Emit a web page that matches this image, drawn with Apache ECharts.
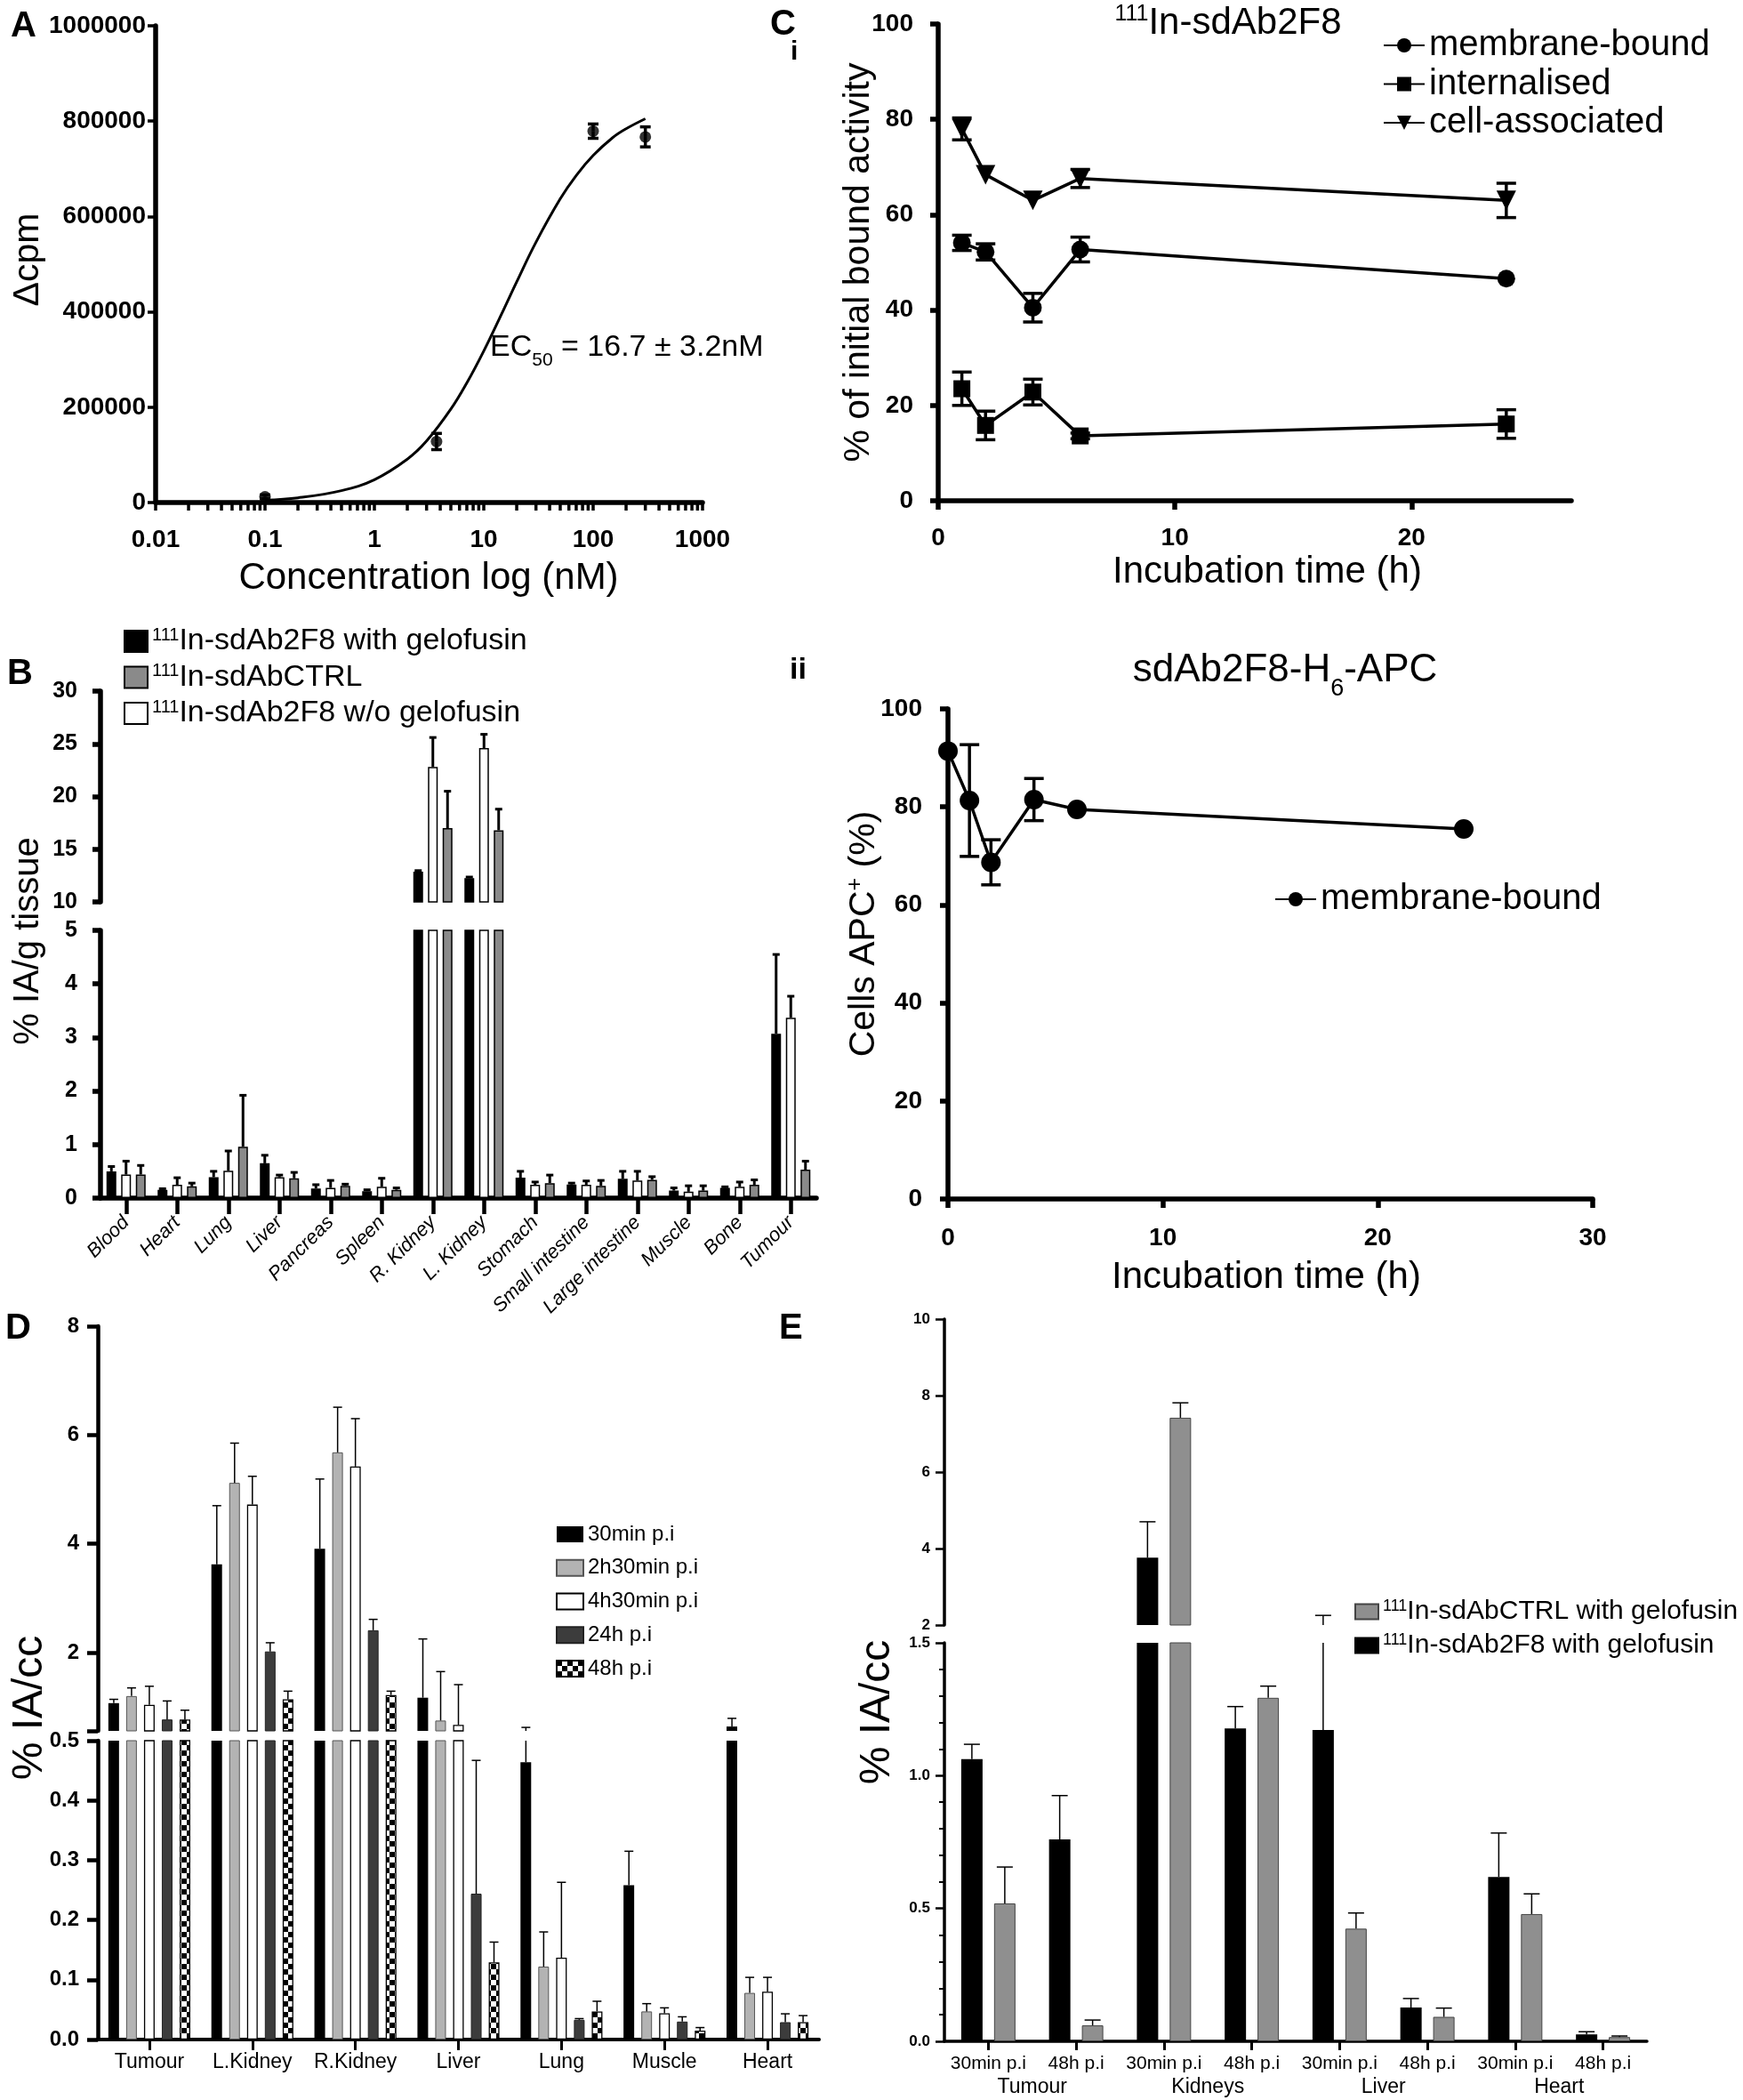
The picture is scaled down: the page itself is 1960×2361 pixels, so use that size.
<!DOCTYPE html>
<html><head><meta charset="utf-8">
<script src="https://cdn.jsdelivr.net/npm/echarts@6/dist/echarts.min.js"></script>
<style>html,body{margin:0;padding:0;background:#fff}#c{width:1960px;height:2361px}</style>
</head><body><div id="c"></div><script>
// ---------- DATA ----------
// Panel A
const aConc = [0.1, 3.7, 100, 300];
const aMean = [12000, 128000, 779000, 767000];
const aErr = [4000, 17000, 15000, 21000];
const aFitConc = [0.1, 0.2, 0.5, 1, 2, 3, 5, 7, 10, 15, 20, 30, 50, 70, 100, 150, 200, 300];
const aFitVal = [5000, 10000, 25000, 48000, 91000, 129000, 196000, 251000, 318000, 402000, 463000, 546000, 637000, 686000, 728000, 765000, 784000, 805000];
const aTicks = [0.01, 0.1, 1, 10, 100, 1000];
// Panel C(i)
const ciTime = [1, 2, 4, 6, 24];
const ciMembrane = [54.1, 52.2, 40.5, 52.7, 46.6];
const ciMembraneErr = [1.6, 1.7, 3.0, 2.6, 0];
const ciInternal = [23.5, 15.8, 22.8, 13.6, 16.1];
const ciInternalErr = [3.5, 3.0, 2.7, 0.6, 3.0];
const ciCell = [78.0, 68.4, 63.0, 67.6, 63.0];
const ciCellErr = [2.3, 0, 0, 1.9, 3.6];
const ciXTicks = [0, 10, 20];
// Panel C(ii)
const ciiTime = [0, 1, 2, 4, 6, 24];
const ciiMembrane = [91.4, 81.3, 68.7, 81.5, 79.5, 75.5];
const ciiErr = [0, 11.4, 4.6, 4.3, 0, 0];
// Panel B
const bTissues = ['Blood','Heart','Lung','Liver','Pancreas','Spleen','R. Kidney','L. Kidney','Stomach','Small intestine','Large intestine','Muscle','Bone','Tumour'];
const bWith = [0.50, 0.155, 0.39, 0.65, 0.18, 0.13, 12.87, 12.26, 0.38, 0.255, 0.36, 0.14, 0.19, 3.07];
const bWithErr = [0.09, 0.02, 0.11, 0.15, 0.07, 0.025, 0.1, 0.1, 0.12, 0.025, 0.14, 0.05, 0.02, 1.48];
const bWo = [0.44, 0.25, 0.51, 0.39, 0.19, 0.21, 22.8, 24.6, 0.25, 0.25, 0.33, 0.12, 0.21, 3.37];
const bWoErr = [0.25, 0.13, 0.37, 0.04, 0.14, 0.16, 2.8, 1.3, 0.05, 0.07, 0.17, 0.11, 0.09, 0.40];
const bCtrl = [0.44, 0.22, 0.96, 0.37, 0.23, 0.155, 17.0, 16.8, 0.28, 0.23, 0.34, 0.14, 0.25, 0.53];
const bCtrlErr = [0.17, 0.06, 0.96, 0.11, 0.03, 0.035, 3.5, 2.0, 0.15, 0.10, 0.06, 0.09, 0.09, 0.16];
// Panel D
const dTissues = ['Tumour','L.Kidney','R.Kidney','Liver','Lung','Muscle','Heart'];
const dTimes = ['30min p.i','2h30min p.i','4h30min p.i','24h p.i','48h p.i'];
const d30 = [1.07, 3.62, 3.91, 1.17, 0.464, 0.258, 0.64];
const d30Err = [0.07, 1.08, 1.28, 1.08, 0.16, 0.057, 0.15];
const d2h30 = [1.20, 5.12, 5.68, 0.75, 0.122, 0.047, 0.078];
const d2h30Err = [0.15, 0.73, 0.83, 0.90, 0.058, 0.013, 0.026];
const d4h30 = [1.04, 4.72, 5.42, 0.67, 0.137, 0.044, 0.080];
const d4h30Err = [0.34, 0.52, 0.88, 0.74, 0.126, 0.009, 0.024];
const d24 = [0.77, 2.02, 2.41, 0.244, 0.033, 0.030, 0.029];
const d24Err = [0.34, 0.16, 0.20, 0.223, 0.002, 0.008, 0.014];
const d48 = [0.77, 1.14, 1.22, 0.129, 0.047, 0.015, 0.029];
const d48Err = [0.17, 0.15, 0.07, 0.034, 0.017, 0.005, 0.011];
const dUpperTicks = [2, 4, 6, 8];
// Panel E
const eGroups = ['Tumour','Kidneys','Liver','Heart'];
const eTimes = ['30min p.i','48h p.i'];
const e2F8 = [1.062, 0.76, 3.76, 1.178, 1.172, 0.127, 0.619, 0.026];
const e2F8Err = [0.056, 0.165, 0.94, 0.082, 1.08, 0.034, 0.165, 0.010];
const eCtrl = [0.519, 0.060, 7.42, 1.293, 0.424, 0.092, 0.479, 0.016];
const eCtrlErr = [0.137, 0.020, 0.39, 0.044, 0.059, 0.033, 0.076, 0.004];

// ---------- CHART ----------
const F = '"Liberation Sans", Arial, Helvetica, sans-serif';
const chart = echarts.init(document.getElementById('c'), null, {renderer:'canvas', width:1960, height:2361});
const grid = [], xAxis = [], yAxis = [], series = [], legend = [], graphic = [];

function merge(a, b) {
  const o = Array.isArray(a) ? a.slice() : Object.assign({}, a);
  for (const k in b) {
    if (b[k] && typeof b[k] === 'object' && !Array.isArray(b[k]) && a[k] && typeof a[k] === 'object' && !Array.isArray(a[k])) o[k] = merge(a[k], b[k]);
    else o[k] = b[k];
  }
  return o;
}
function axis(lw, tickLen, labSize, margin, extra) {
  return merge({
    axisLine: {show: true, onZero: false, lineStyle: {color: '#000', width: lw}},
    axisTick: {show: true, inside: false, length: tickLen, lineStyle: {color: '#000', width: lw}},
    splitLine: {show: false},
    axisLabel: {color: '#000', fontFamily: F, fontWeight: 'bold', fontSize: labSize, margin: margin}
  }, extra || {});
}
function errSeries(xi, yi, xs, means, errs, off, lw, cap, both, z) {
  return {
    type: 'custom', xAxisIndex: xi, yAxisIndex: yi, clip: true, silent: true, z: z || 4,
    data: xs.map((x, i) => [x, means[i], errs[i]]),
    encode: {x: 0, y: 1},
    renderItem: (params, api) => {
      const e = api.value(2); if (!e) return null;
      const x = api.value(0), m = api.value(1);
      const pm = api.coord([x, m]), pt = api.coord([x, m + e]);
      const cx = pm[0] + off;
      const st = {stroke: '#000', lineWidth: lw};
      const ch = [
        {type: 'line', shape: {x1: cx, y1: pm[1], x2: cx, y2: pt[1]}, style: st},
        {type: 'line', shape: {x1: cx - cap, y1: pt[1], x2: cx + cap, y2: pt[1]}, style: st}
      ];
      if (both) {
        const pb = api.coord([x, m - e]);
        ch.push({type: 'line', shape: {x1: cx, y1: pm[1], x2: cx, y2: pb[1]}, style: st},
                {type: 'line', shape: {x1: cx - cap, y1: pb[1], x2: cx + cap, y2: pb[1]}, style: st});
      }
      return {type: 'group', children: ch};
    }
  };
}
function txt(x, y, text, size, o) {
  o = o || {};
  graphic.push({type: 'text', x: x, y: y, rotation: o.rot || 0, silent: true,
    style: Object.assign({text: text, fill: '#000', font: (o.weight || 'normal') + ' ' + size + 'px ' + F,
      align: o.align || 'center', verticalAlign: o.va || 'middle'}, o.style || {})});
}
const supFmt = name => name.indexOf('111') === 0 ? '{s|111}{t|' + name.slice(3) + '}' : '{t|' + name + '}';
function supRich(size) {
  return {s: {fontSize: Math.round(size * 0.6), fontFamily: F, color: '#000', verticalAlign: 'top', lineHeight: size},
          t: {fontSize: size, fontFamily: F, color: '#000', lineHeight: size}};
}

// ===== Panel A =====
grid.push({left: 175, top: 29, width: 615, height: 536});
xAxis.push(axis(5.5, 9, 28, 28, {type: 'log', gridIndex: 0, logBase: 10, min: 0.01, max: 1000,
  axisTick: {lineStyle: {width: 3.5}}, axisLabel: {formatter: v => String(+(+v).toPrecision(3))}}));
yAxis.push(axis(5.5, 9, 28, 11, {type: 'value', gridIndex: 0, min: 0, max: 1000000, interval: 200000,
  axisTick: {lineStyle: {width: 3.5}}, axisLabel: {formatter: v => String(v)}}));
const aMinor = [];
for (let d = 0; d < aTicks.length - 1; d++) for (let k = 2; k < 10; k++) aMinor.push(aTicks[d] * k);
series.push({type: 'custom', xAxisIndex: 0, yAxisIndex: 0, silent: true, data: aMinor.map(v => [v, 0]), encode: {x: 0, y: 1},
  renderItem: (p, api) => { const c = api.coord([api.value(0), 0]);
    return {type: 'line', shape: {x1: c[0], y1: c[1], x2: c[0], y2: c[1] + 9}, style: {stroke: '#000', lineWidth: 3.5}}; }});
series.push({type: 'line', xAxisIndex: 0, yAxisIndex: 0, data: aFitConc.map((x, i) => [x, aFitVal[i]]), smooth: 0.4,
  symbol: 'none', lineStyle: {color: '#000', width: 3}, silent: true, z: 2});
series.push({type: 'scatter', xAxisIndex: 0, yAxisIndex: 0, data: aConc.map((x, i) => [x, aMean[i]]), symbolSize: 13,
  itemStyle: {color: '#000'}, z: 3});
series.push(errSeries(0, 0, aConc, aMean, aErr, 0, 3.5, 6, true, 3));
txt(12, 10, 'A', 40, {weight: 'bold', align: 'left', va: 'top'});
txt(482, 650, 'Concentration log (nM)', 42);
txt(32, 292, 'Δcpm', 41, {rot: Math.PI / 2});
txt(551, 395, '{a|EC}{b|50}{a| = 16.7 ± 3.2nM}', 34, {align: 'left', style: {rich: {
  a: {fontSize: 34, fontFamily: F, lineHeight: 42, verticalAlign: 'top'},
  b: {fontSize: 21, fontFamily: F, lineHeight: 42, verticalAlign: 'bottom'}}}});

// ===== Panel C(i) =====
grid.push({left: 1055, top: 27, width: 712, height: 536});
xAxis.push(axis(5.5, 10, 28, 28, {type: 'value', gridIndex: 1, min: 0, max: 26.75,
  axisTick: {customValues: ciXTicks}, axisLabel: {customValues: ciXTicks}}));
yAxis.push(axis(5.5, 9, 28, 28, {type: 'value', gridIndex: 1, min: 0, max: 100, interval: 20}));
const ciSeries = [
  ['membrane-bound', ciMembrane, ciMembraneErr, 'circle', 20, 0],
  ['internalised', ciInternal, ciInternalErr, 'rect', 19, 0],
  ['cell-associated', ciCell, ciCellErr, 'triangle', 22, 180]
];
ciSeries.forEach(s => {
  series.push({type: 'line', name: s[0], xAxisIndex: 1, yAxisIndex: 1, data: ciTime.map((t, i) => [t, s[1][i]]),
    symbol: s[3], symbolSize: s[4], symbolRotate: s[5], itemStyle: {color: '#000'}, lineStyle: {color: '#000', width: 3.5}, z: 3});
  series.push(errSeries(1, 1, ciTime, s[1], s[2], 0, 3.5, 11, true, 2));
});
legend.push({orient: 'vertical', left: 1550, top: 26, itemWidth: 46, itemHeight: 20, itemGap: 3.5, selectedMode: false,
  data: ['membrane-bound', 'internalised', 'cell-associated'],
  textStyle: {fontSize: 40, fontFamily: F, color: '#000', lineHeight: 40}});
txt(866, 8, 'C', 40, {weight: 'bold', align: 'left', va: 'top'});
txt(889, 44, 'i', 30, {weight: 'bold', align: 'left', va: 'top'});
txt(1381, 26, '{s|111}{t|In-sdAb2F8}', 42, {style: {rich: {
  s: {fontSize: 25, fontFamily: F, lineHeight: 44, verticalAlign: 'top'},
  t: {fontSize: 42, fontFamily: F, lineHeight: 44}}}});
txt(1425, 643, 'Incubation time (h)', 42);
txt(966, 295, '% of initial bound activity', 41, {rot: Math.PI / 2});

// ===== Panel B =====
const bIdx = bTissues.map((_, i) => i);
grid.push({left: 113, top: 777, width: 805, height: 237});
grid.push({left: 113, top: 1046, width: 805, height: 301});
xAxis.push({type: 'category', gridIndex: 2, data: bTissues, show: false});
yAxis.push(axis(5.5, 9, 25, 26, {type: 'value', gridIndex: 2, min: 10, max: 30, interval: 5}));
xAxis.push(axis(5.5, 18, 22, 24, {type: 'category', gridIndex: 3, data: bTissues,
  axisTick: {alignWithLabel: true, lineStyle: {width: 4.5}},
  axisLabel: {fontWeight: 'normal', fontStyle: 'italic', rotate: 45, interval: 0}}));
yAxis.push(axis(5.5, 9, 25, 26, {type: 'value', gridIndex: 3, min: 0, max: 5, interval: 1}));
const nameWith = '111In-sdAb2F8 with gelofusin';
const nameCtrl = '111In-sdAbCTRL';
const nameWo = '111In-sdAb2F8 w/o gelofusin';
const bSets = [[nameWith, bWith, bWithErr, '#000000'], [nameWo, bWo, bWoErr, '#ffffff'], [nameCtrl, bCtrl, bCtrlErr, '#8a8a8a']];
const bStep = 11 * 1.5;
bSets.forEach((s, k) => {
  [2, 3].forEach(ax => {
    series.push({type: 'bar', name: s[0], xAxisIndex: ax, yAxisIndex: ax, data: s[1], barWidth: 11, barGap: '50%',
      itemStyle: {color: s[3], borderColor: '#000', borderWidth: 1.5}, z: 2});
    series.push(errSeries(ax, ax, bIdx, s[1], s[2], (k - 1) * bStep, 3, 4, false, 3));
  });
});
legend.push({orient: 'vertical', left: 134, top: 699, itemWidth: 26, itemHeight: 24, itemGap: 6.5, icon: 'rect', selectedMode: false,
  data: [nameWith, nameCtrl, nameWo], formatter: supFmt, textStyle: {fontSize: 34, fontFamily: F, color: '#000', rich: supRich(34)}});
txt(8, 738, 'B', 40, {weight: 'bold', align: 'left', va: 'top'});
txt(32, 1058, '% IA/g tissue', 40, {rot: Math.PI / 2});

// ===== Panel C(ii) =====
grid.push({left: 1066, top: 797, width: 725, height: 551});
xAxis.push(axis(5.5, 10, 28, 30, {type: 'value', gridIndex: 4, min: 0, max: 30, interval: 10}));
yAxis.push(axis(5.5, 9, 28, 29, {type: 'value', gridIndex: 4, min: 0, max: 100, interval: 20}));
series.push({type: 'line', name: 'membrane-bound', xAxisIndex: 4, yAxisIndex: 4, data: ciiTime.map((t, i) => [t, ciiMembrane[i]]),
  symbol: 'circle', symbolSize: 22, itemStyle: {color: '#000'}, lineStyle: {color: '#000', width: 3.5}, z: 3});
series.push(errSeries(4, 4, ciiTime, ciiMembrane, ciiErr, 0, 3.5, 11, true, 2));
legend.push({orient: 'vertical', left: 1428, top: 986, itemWidth: 46, itemHeight: 20, selectedMode: false,
  data: ['membrane-bound'], textStyle: {fontSize: 40, fontFamily: F, color: '#000', lineHeight: 40}});
txt(888, 737, 'ii', 34, {weight: 'bold', align: 'left', va: 'top'});
txt(1445, 760, '{t|sdAb2F8-H}{s|6}{t|-APC}', 44, {style: {rich: {
  t: {fontSize: 44, fontFamily: F, lineHeight: 56, verticalAlign: 'top'},
  s: {fontSize: 27, fontFamily: F, lineHeight: 56, verticalAlign: 'bottom'}}}});
txt(1424, 1436, 'Incubation time (h)', 42);
txt(972, 1050, '{t|Cells APC}{s|+}{t| (%)}', 41, {rot: Math.PI / 2, style: {rich: {
  t: {fontSize: 41, fontFamily: F, lineHeight: 44},
  s: {fontSize: 25, fontFamily: F, lineHeight: 44, verticalAlign: 'top'}}}});

// ===== Panel D =====
const dIdx = dTissues.map((_, i) => i);
const pc = document.createElement('canvas'); pc.width = 12; pc.height = 12;
const pctx = pc.getContext('2d'); pctx.fillStyle = '#fff'; pctx.fillRect(0, 0, 12, 12);
pctx.fillStyle = '#000'; pctx.fillRect(0, 0, 6, 6); pctx.fillRect(6, 6, 6, 6);
grid.push({left: 110, top: 1491, width: 811, height: 455});
grid.push({left: 110, top: 1957, width: 811, height: 336});
xAxis.push({type: 'category', gridIndex: 5, data: dTissues, show: false});
yAxis.push(axis(4.5, 12, 24, 21, {type: 'value', gridIndex: 5, min: 0.56, max: 8,
  axisTick: {customValues: [0.56].concat(dUpperTicks)}, axisLabel: {customValues: dUpperTicks}}));
xAxis.push(axis(4, 12, 23, 14, {type: 'category', gridIndex: 6, data: dTissues,
  axisTick: {alignWithLabel: true, lineStyle: {width: 3}}, axisLabel: {fontWeight: 'normal', interval: 0}}));
yAxis.push(axis(4.5, 12, 24, 21, {type: 'value', gridIndex: 6, min: 0, max: 0.5, interval: 0.1,
  axisLabel: {formatter: v => (+v).toFixed(1)}}));
const dSets = [
  [dTimes[0], d30, d30Err, {color: '#000', borderWidth: 0}],
  [dTimes[1], d2h30, d2h30Err, {color: '#b3b3b3', borderColor: '#555', borderWidth: 1}],
  [dTimes[2], d4h30, d4h30Err, {color: '#fff', borderColor: '#000', borderWidth: 1.3}],
  [dTimes[3], d24, d24Err, {color: '#3c3c3c', borderColor: '#222', borderWidth: 1}],
  [dTimes[4], d48, d48Err, {color: {image: pc, repeat: 'repeat'}, borderColor: '#000', borderWidth: 1.3}]
];
dSets.forEach((s, k) => {
  [5, 6].forEach(ax => {
    series.push({type: 'bar', name: s[0], xAxisIndex: ax, yAxisIndex: ax, data: s[1], barWidth: 12, barGap: '67%',
      itemStyle: s[3], z: 2});
    series.push(errSeries(ax, ax, dIdx, s[1], s[2], (k - 2) * 20, 1.5, 5, false, 3));
  });
});
legend.push({orient: 'vertical', left: 620, top: 1708, itemWidth: 30, itemHeight: 18, itemGap: 13.75, icon: 'rect', selectedMode: false,
  data: dTimes, textStyle: {fontSize: 24, fontFamily: F, color: '#000', lineHeight: 24}});
txt(6, 1474, 'D', 40, {weight: 'bold', align: 'left', va: 'top'});
txt(34, 1920, '% IA/cc', 48, {rot: Math.PI / 2});

// ===== Panel E =====
const eCats = [];
eGroups.forEach(g => eTimes.forEach(t => eCats.push(g + '|' + t)));
const eIdx = eCats.map((_, i) => i);
grid.push({left: 1062, top: 1483, width: 790, height: 344});
grid.push({left: 1062, top: 1847, width: 790, height: 448});
xAxis.push({type: 'category', gridIndex: 7, data: eCats, show: false});
yAxis.push(axis(3.5, 10, 17, 16, {type: 'value', gridIndex: 7, min: 2, max: 10, interval: 2, axisTick: {lineStyle: {width: 2.5}}}));
xAxis.push(axis(3.5, 10, 21, 15, {type: 'category', gridIndex: 8, data: eCats,
  axisTick: {alignWithLabel: true, lineStyle: {width: 3}},
  axisLabel: {fontWeight: 'normal', interval: 0, formatter: v => v.split('|')[1]}}));
xAxis.push({type: 'category', gridIndex: 8, data: eGroups, position: 'bottom',
  axisLine: {show: false}, axisTick: {show: false}, splitLine: {show: false},
  axisLabel: {color: '#000', fontFamily: F, fontSize: 23, margin: 40, interval: 0}});
yAxis.push(axis(3.5, 10, 17, 16, {type: 'value', gridIndex: 8, min: 0, max: 1.5, interval: 0.5,
  axisTick: {lineStyle: {width: 2.5}},
  minorTick: {show: true, splitNumber: 5, length: 6, lineStyle: {color: '#000', width: 2}},
  axisLabel: {formatter: v => (+v).toFixed(1)}}));
const eNameCtrl = '111In-sdAbCTRL with gelofusin';
const eSets = [[nameWith, e2F8, e2F8Err, {color: '#000', borderWidth: 0}], [eNameCtrl, eCtrl, eCtrlErr, {color: '#8f8f8f', borderColor: '#444', borderWidth: 1}]];
eSets.forEach((s, k) => {
  [7, 8].forEach(ax => {
    series.push({type: 'bar', name: s[0], xAxisIndex: ax, yAxisIndex: ax, data: s[1], barWidth: 24, barGap: '54%',
      itemStyle: s[3], z: 2});
    series.push(errSeries(ax, ax, eIdx, s[1], s[2], (k - 0.5) * 37, 1.5, 9, false, 3));
  });
});
legend.push({orient: 'vertical', left: 1518, top: 1792, itemWidth: 26, itemHeight: 17, itemGap: 8, icon: 'rect', selectedMode: false,
  data: [eNameCtrl, nameWith], formatter: supFmt, textStyle: {fontSize: 30, fontFamily: F, color: '#000', rich: supRich(30)}});
txt(876, 1474, 'E', 40, {weight: 'bold', align: 'left', va: 'top'});
txt(987, 1925, '% IA/cc', 48, {rot: Math.PI / 2});

chart.setOption({
  animation: false,
  backgroundColor: '#fff',
  textStyle: {fontFamily: F},
  grid: grid, xAxis: xAxis, yAxis: yAxis, series: series, legend: legend, graphic: graphic
});
</script></body></html>
